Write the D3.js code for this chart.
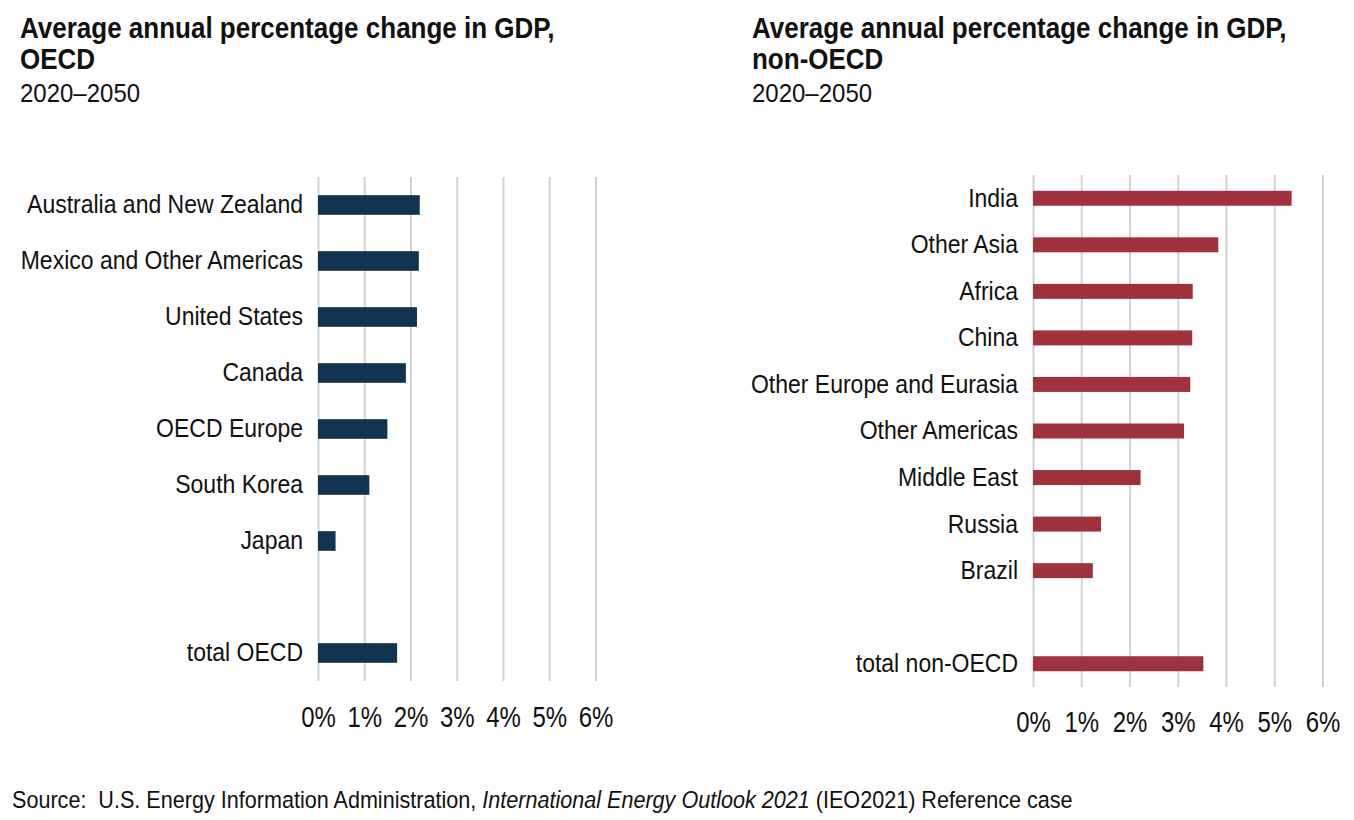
<!DOCTYPE html>
<html>
<head>
<meta charset="utf-8">
<script src="https://cdn.jsdelivr.net/npm/d3@7"></script>
<style>
  html, body { margin: 0; padding: 0; background: #fff; }
  svg { display: block; font-family: "Liberation Sans", Arial, sans-serif; }
  text { fill: #111; }
</style>
</head>
<body>
<svg id="chart" width="1354" height="820"></svg>
<script>
// ---- Data ----
const oecdCategories = ["Australia and New Zealand", "Mexico and Other Americas", "United States", "Canada", "OECD Europe", "South Korea", "Japan", "", "total OECD"];
const oecdValues = [2.20, 2.18, 2.14, 1.90, 1.50, 1.11, 0.38, null, 1.71];

const nonOecdCategories = ["India", "Other Asia", "Africa", "China", "Other Europe and Eurasia", "Other Americas", "Middle East", "Russia", "Brazil", "", "total non-OECD"];
const nonOecdValues = [5.36, 3.84, 3.31, 3.30, 3.26, 3.13, 2.23, 1.41, 1.24, null, 3.53];

const tickValues = [0, 1, 2, 3, 4, 5, 6];
const tickLabels = ["0%", "1%", "2%", "3%", "4%", "5%", "6%"];

const svg = d3.select("#chart");

// vertical stretch of a text around a pivot y
function stretch(sel, sy, pivotFn) {
  sel.attr("transform", function (d, i) {
    const p = pivotFn.call(this, d, i);
    return `translate(0,${p}) scale(1,${sy}) translate(0,${-p})`;
  });
}

function panel(cfg) {
  const g = svg.append("g");
  const idx = cfg.categories.map((d, i) => i);
  const x = d3.scaleLinear().domain([0, 6]).range([cfg.x0, cfg.x1]);
  const y = d3.scaleBand().domain(idx).range([cfg.y0, cfg.y1])
    .paddingInner(cfg.pad).paddingOuter(cfg.pad / 2);

  // gridlines
  g.append("g")
    .attr("transform", `translate(0,${cfg.y1})`)
    .call(d3.axisBottom(x).tickValues(tickValues).tickSize(-(cfg.y1 - cfg.y0)).tickFormat(""))
    .call(a => a.select(".domain").remove())
    .call(a => a.selectAll("line").attr("stroke", "#d2d2d2").attr("stroke-width", 2));

  // bars
  g.append("g").selectAll("rect")
    .data(idx.filter(i => cfg.values[i] != null))
    .join("rect")
    .attr("x", x(0))
    .attr("y", i => y(i))
    .attr("width", i => x(cfg.values[i]) - x(0))
    .attr("height", y.bandwidth())
    .attr("fill", cfg.color);

  // x tick labels
  const tfs = 24;
  g.append("g")
    .attr("transform", `translate(0,${cfg.y1})`)
    .call(d3.axisBottom(x).tickValues(tickValues).tickSize(0).tickPadding(cfg.tickPad)
      .tickFormat((d, i) => tickLabels[i]))
    .call(a => a.select(".domain").remove())
    .call(a => {
      const t = a.selectAll("text").attr("font-size", tfs).attr("fill", "#111")
        .attr("font-family", "'Liberation Sans', Arial, sans-serif");
      stretch(t, 1.25, () => cfg.tickPad + 0.36 * tfs);
    });

  // category labels
  g.append("g")
    .attr("transform", `translate(${cfg.x0},0)`)
    .call(d3.axisLeft(y).tickSize(0).tickPadding(15).tickFormat(i => cfg.categories[i]))
    .call(a => a.select(".domain").remove())
    .call(a => {
      const t = a.selectAll("text").attr("font-size", 23).attr("fill", "#111")
        .attr("font-family", "'Liberation Sans', Arial, sans-serif");
      stretch(t, 1.15, () => 0);
    });

  // titles
  const t1 = g.append("text").attr("x", cfg.tx).attr("y", 37)
    .attr("font-size", 26).attr("font-weight", "bold").text(cfg.title1);
  stretch(t1, 1.1, () => 37 - 9);
  const t2 = g.append("text").attr("x", cfg.tx).attr("y", 68)
    .attr("font-size", 26).attr("font-weight", "bold").text(cfg.title2);
  stretch(t2, 1.1, () => 68 - 9);
  const st = g.append("text").attr("x", cfg.tx).attr("y", 101).attr("font-size", 24).text("2020–2050");
  stretch(st, 1.1, () => 101 - 9);
}

panel({
  categories: oecdCategories, values: oecdValues, color: "#12344f",
  x0: 318, x1: 595.5, y0: 177, y1: 681, pad: 0.65, tickPad: 27,
  tx: 20, title1: "Average annual percentage change in GDP,", title2: "OECD"
});

panel({
  categories: nonOecdCategories, values: nonOecdValues, color: "#a0323f",
  x0: 1033, x1: 1322.5, y0: 175, y1: 687, pad: 0.678, tickPad: 26,
  tx: 752, title1: "Average annual percentage change in GDP,", title2: "non-OECD"
});

// source
const src = svg.append("text").attr("x", 12).attr("y", 807).attr("font-size", 21.6)
  .attr("xml:space", "preserve").style("white-space", "pre");
src.append("tspan").text("Source:  U.S. Energy Information Administration, ");
src.append("tspan").attr("font-style", "italic").text("International Energy Outlook 2021");
src.append("tspan").text(" (IEO2021) Reference case");
stretch(src, 1.1, () => 807 - 8);
</script>
</body>
</html>
